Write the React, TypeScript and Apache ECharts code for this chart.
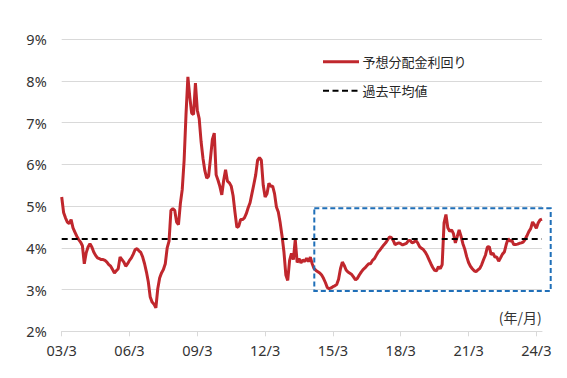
import React, { useEffect, useRef } from "react";
import * as echarts from "echarts";

// Monthly data, starting 2003/3
const START_YEAR = 2003;
const START_MONTH = 3;

// 予想分配金利回り (%)
const YIELD: number[] = [
  5.22, 4.85, 4.72, 4.62, 4.58, 4.68, 4.48, 4.38, 4.28, 4.2,
  4.14, 4.05, 3.62, 3.88, 4.02, 4.1, 4.02, 3.9, 3.82, 3.76,
  3.74, 3.72, 3.72, 3.7, 3.66, 3.6, 3.56, 3.48, 3.4, 3.45,
  3.5, 3.78, 3.72, 3.66, 3.56, 3.62, 3.7, 3.76, 3.85, 3.96,
  3.98, 3.93, 3.89, 3.78, 3.62, 3.42, 3.18, 2.82, 2.7, 2.65,
  2.56, 3.02, 3.28, 3.4, 3.48, 3.62, 4.0, 4.16, 4.9, 4.94,
  4.9, 4.62, 4.56, 5.06, 5.4, 6.1, 7.2, 8.1, 7.62, 7.23,
  7.2, 7.95, 7.3, 7.1, 6.55, 6.15, 5.85, 5.67, 5.72, 6.15,
  6.6, 6.75, 5.75, 5.62, 5.47, 5.27, 5.62, 5.87, 5.6, 5.56,
  5.48, 5.25, 4.85, 4.49, 4.52, 4.68, 4.68, 4.72, 4.82, 4.96,
  5.08, 5.3, 5.52, 5.75, 6.1, 6.16, 6.1, 5.5, 5.22, 5.3,
  5.55, 5.48, 5.48, 5.3, 4.98, 4.86, 4.6, 4.28, 3.9, 3.35,
  3.22, 3.7, 3.87, 3.72, 4.2, 3.65, 3.74, 3.64, 3.71, 3.67,
  3.75, 3.67, 3.78, 3.62, 3.5, 3.46, 3.43, 3.4, 3.35, 3.27,
  3.17, 3.05, 3.02, 3.04, 3.07, 3.09, 3.12, 3.25, 3.5, 3.66,
  3.58, 3.47, 3.42, 3.39, 3.36, 3.3, 3.23, 3.27, 3.35, 3.42,
  3.48, 3.52, 3.57, 3.62, 3.62, 3.7, 3.74, 3.82, 3.9, 3.95,
  4.01, 4.07, 4.12, 4.19, 4.26, 4.25, 4.18, 4.08, 4.1, 4.12,
  4.1, 4.07, 4.09, 4.11, 4.17, 4.18, 4.12, 4.14, 4.18, 4.12,
  4.03, 3.99, 3.96, 3.9, 3.82, 3.72, 3.62, 3.53, 3.46, 3.45,
  3.55, 3.5, 3.6, 4.6, 4.8, 4.48, 4.4, 4.43, 4.34, 4.12,
  4.27, 4.43, 4.28, 4.1, 3.97, 3.79, 3.65, 3.56, 3.5, 3.45,
  3.43, 3.47, 3.51, 3.6, 3.72, 3.83, 4.02, 4.03, 3.84, 3.87,
  3.78, 3.78, 3.68, 3.76, 3.85, 3.9, 4.08, 4.22, 4.16, 4.18,
  4.08, 4.08, 4.09, 4.11, 4.12, 4.14, 4.2, 4.29, 4.39, 4.46,
  4.62, 4.55, 4.47, 4.6, 4.67, 4.69,
];

// 過去平均値 (%)
const AVERAGE = 4.23;

const Y_MIN = 2;
const Y_MAX = 9;
const Y_STEP = 1;
const TICK_EVERY_MONTHS = 36; // 03/3, 06/3, ... 24/3

const SERIES_NAME = "予想分配金利回り";
const AVG_NAME = "過去平均値";
const UNIT_LABEL = "(年/月)";

function buildCategories(n: number): string[] {
  const out: string[] = [];
  let y = START_YEAR;
  let m = START_MONTH;
  for (let i = 0; i < n; i++) {
    out.push(`${String(y % 100).padStart(2, "0")}/${m}`);
    m++;
    if (m > 12) {
      m = 1;
      y++;
    }
  }
  return out;
}

const CATEGORIES = buildCategories(YIELD.length);

const FONT = "'Noto Sans', 'Noto Sans CJK JP', sans-serif";
const CJK_FONT = "'Noto Sans CJK JP', 'Noto Sans', sans-serif";
const RED = "#c0272d";
const BLUE = "#1f6fb8";
const LABEL_COLOR = "#333333";
const GRID_COLOR = "#d9d9d9";

export default function App() {
  const ref = useRef<HTMLDivElement>(null);

  useEffect(() => {
    document.body.style.margin = "0";
    if (!ref.current) return;
    const chart = echarts.init(ref.current, null, { renderer: "svg" });
    chart.setOption({
      animation: false,
      backgroundColor: "#ffffff",
      grid: {
        left: 61.7,
        right: 25,
        top: 39.3,
        bottom: 46.7,
        containLabel: false,
      },
      xAxis: {
        type: "category",
        data: CATEGORIES,
        boundaryGap: false,
        axisLine: { show: true, lineStyle: { color: GRID_COLOR, width: 1 } },
        axisTick: {
          show: true,
          interval: TICK_EVERY_MONTHS - 1,
          length: 5,
          lineStyle: { color: GRID_COLOR },
        },
        axisLabel: {
          interval: TICK_EVERY_MONTHS - 1,
          color: LABEL_COLOR,
          fontSize: 14.5,
          fontFamily: FONT,
          margin: 11,
        },
        splitLine: { show: false },
      },
      yAxis: {
        type: "value",
        min: Y_MIN,
        max: Y_MAX,
        interval: Y_STEP,
        axisLine: { show: false },
        axisTick: { show: false },
        axisLabel: {
          formatter: "{value}%",
          color: LABEL_COLOR,
          fontSize: 14.5,
          fontFamily: FONT,
          margin: 15,
        },
        splitLine: { show: true, lineStyle: { color: GRID_COLOR, width: 1 } },
      },
      series: [
        {
          name: SERIES_NAME,
          type: "line",
          data: YIELD,
          showSymbol: false,
          symbol: "none",
          lineStyle: { color: RED, width: 3 },
          z: 3,
          markLine: {
            silent: true,
            symbol: "none",
            label: { show: false },
            lineStyle: { color: "#000000", width: 2, type: [6, 4] },
            data: [{ name: AVG_NAME, yAxis: AVERAGE }],
          },
        },
      ],
      graphic: [
        // dashed highlight box
        {
          type: "rect",
          shape: { x: 314.3, y: 208.3, width: 236.4, height: 82.7 },
          style: { fill: "none", stroke: BLUE, lineWidth: 2, lineDash: [5, 3] },
          z: 10,
        },
        // legend
        {
          type: "line",
          shape: { x1: 323, y1: 61.7, x2: 359, y2: 61.7 },
          style: { stroke: RED, lineWidth: 3 },
        },
        {
          type: "text",
          x: 362.5,
          y: 61.7,
          style: {
            text: SERIES_NAME,
            fill: "#262626",
            font: `13px ${CJK_FONT}`,
            verticalAlign: "middle",
          },
        },
        {
          type: "line",
          shape: { x1: 323, y1: 90.7, x2: 359, y2: 90.7 },
          style: { stroke: "#000000", lineWidth: 2, lineDash: [6, 3.5] },
        },
        {
          type: "text",
          x: 362.5,
          y: 90.7,
          style: {
            text: AVG_NAME,
            fill: "#262626",
            font: `13px ${CJK_FONT}`,
            verticalAlign: "middle",
          },
        },
        {
          type: "text",
          x: 541.7,
          y: 316.7,
          style: {
            text: UNIT_LABEL,
            fill: LABEL_COLOR,
            font: `14px ${CJK_FONT}`,
            align: "right",
            verticalAlign: "middle",
          },
        },
      ],
    });
    return () => chart.dispose();
  }, []);

  return (
    <div
      ref={ref}
      style={{ position: "absolute", left: 0, top: 0, width: 567, height: 378 }}
    />
  );
}
